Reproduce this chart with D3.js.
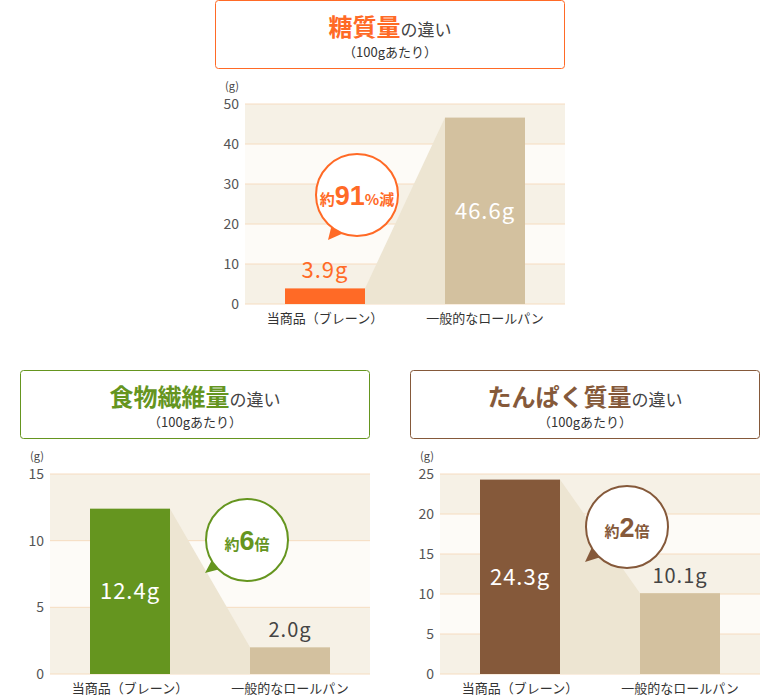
<!DOCTYPE html><html><head><meta charset="utf-8"><script src="https://d3js.org/d3.v7.min.js"></script>
<style>body{margin:0;background:#fff}text{font-family:"Noto Sans CJK JP","Noto Sans",sans-serif}</style></head><body><svg id="c" width="780" height="697"></svg>
<script>
const categories=["当商品（ブレーン）","一般的なロールパン"];
const sugarValues=[3.9,46.6];
const fiberValues=[12.4,2.0];
const proteinValues=[24.3,10.1];
const sugarTicks=[0,10,20,30,40,50];
const fiberTicks=[0,5,10,15];
const proteinTicks=[0,5,10,15,20,25];
const charts=[
 {title:"糖質量",values:sugarValues,ticks:sugarTicks,color:"#ff6a26",x:215,y:0,callout:["約","91","%減"],cx:357,cy:195,tail:[[332,224],[328,240],[346,232]],labelIn:[false,true]},
 {title:"食物繊維量",values:fiberValues,ticks:fiberTicks,color:"#65951f",x:20,y:370,callout:["約","6","倍"],cx:247,cy:540,tail:[[213,558],[205,573],[224,568]],labelIn:[true,false]},
 {title:"たんぱく質量",values:proteinValues,ticks:proteinTicks,color:"#85593a",x:410,y:370,callout:["約","2","倍"],cx:627,cy:527,tail:[[593,545],[585,562],[604,556]],labelIn:[true,false]}
];
const svg=d3.select("#c");
charts.forEach(c=>{
 const g=svg.append("g");
 g.append("rect").attr("x",c.x+0.5).attr("y",c.y+0.5).attr("width",349).attr("height",68).attr("rx",3).attr("fill","#fff").attr("stroke",c.color);
 const t=g.append("text").attr("x",c.x+175).attr("y",c.y+36).attr("text-anchor","middle");
 t.append("tspan").text(c.title).attr("font-size",24).attr("font-weight","bold").attr("fill",c.color);
 t.append("tspan").text("の違い").attr("font-size",17).attr("fill","#444");
 g.append("text").attr("x",c.x+175).attr("y",c.y+57).attr("text-anchor","middle").attr("font-size",13).attr("fill","#333").text("（100gあたり）");
 const L=c.x+30,R=c.x+350,T=c.y+104,B=c.y+304;
 const max=d3.max(c.ticks);
 const y=d3.scaleLinear().domain([0,max]).range([B,T]);
 const x=d3.scaleBand().domain(categories).range([L,R]).paddingInner(0.5).paddingOuter(0.25);
 const tk=c.ticks;
 for(let i=0;i<tk.length-1;i++){
  const n=tk.length-2-i;
  g.append("rect").attr("x",L).attr("width",R-L).attr("y",y(tk[i+1])).attr("height",y(tk[i])-y(tk[i+1])).attr("fill",n%2==0?"#f6f1e6":"#fdfbf7");
 }
 tk.forEach(v=>{g.append("line").attr("x1",L).attr("x2",R).attr("y1",y(v)).attr("y2",y(v)).attr("stroke","#f6dcc0");
  g.append("text").attr("x",L-6).attr("y",y(v)+5).attr("text-anchor","end").attr("font-size",14).attr("fill","#555").attr("font-family","Liberation Sans,sans-serif").text(v);});
 g.append("text").attr("x",L-13).attr("y",T-14).attr("text-anchor","middle").attr("font-size",11).attr("fill","#444").text("(g)");
 const x0=x(categories[0])+x.bandwidth(),x1=x(categories[1]);
 g.append("path").attr("d",`M${x0},${y(c.values[0])}L${x1},${y(c.values[1])}L${x1},${B}L${x0},${B}Z`).attr("fill","#ede5d2");
 c.values.forEach((v,i)=>{
  const col=i==0?c.color:"#d3c19f";
  g.append("rect").attr("x",x(categories[i])).attr("width",x.bandwidth()).attr("y",y(v)).attr("height",B-y(v)).attr("fill",col);
  const lx=x(categories[i])+x.bandwidth()/2;
  const lbl=g.append("text").attr("text-anchor","middle").attr("font-size",i==0||c.labelIn[i]?22:20).attr("letter-spacing",1).attr("font-family","DejaVu Sans,sans-serif");
  if(c.labelIn[i]) lbl.attr("x",lx).attr("y",(y(v)+B)/2+8).attr("fill","#fff").text(v.toFixed(1)+"g");
  else lbl.attr("x",lx).attr("y",y(v)-10).attr("fill",i==0?c.color:"#444").text(v.toFixed(1)+"g");
  g.append("text").attr("x",lx).attr("y",B+19).attr("text-anchor","middle").attr("font-size",13).attr("fill","#333").text(categories[i]);
 });
 g.append("path").attr("d",d3.line()(c.tail)).attr("fill",c.color);
 g.append("circle").attr("cx",c.cx).attr("cy",c.cy).attr("r",41).attr("fill","#fff").attr("stroke",c.color).attr("stroke-width",2);
 const ct=g.append("text").attr("x",c.cx).attr("y",c.cy+10).attr("text-anchor","middle").attr("fill",c.color).attr("font-weight","bold");
 ct.append("tspan").text(c.callout[0]).attr("font-size",15);
 ct.append("tspan").text(c.callout[1]).attr("font-size",27).attr("font-family","Liberation Sans,sans-serif");
 ct.append("tspan").text(c.callout[2]).attr("font-size",15);
});
</script></body></html>
